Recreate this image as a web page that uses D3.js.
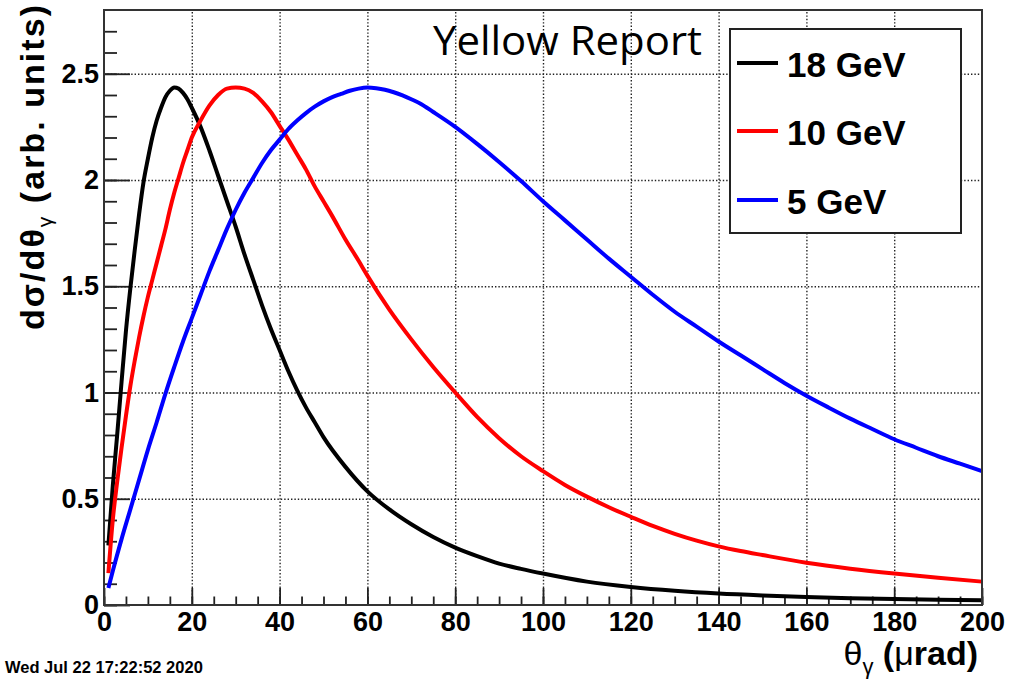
<!DOCTYPE html>
<html>
<head>
<meta charset="utf-8">
<script src="https://cdn.jsdelivr.net/npm/d3@7"></script>
<style>
  body { margin: 0; background: #fff; }
  svg { display: block; font-family: "Liberation Sans", Arial, sans-serif; }
</style>
</head>
<body>
<div id="container"></div>
<script>
// values (theta in urad, dsigma/dtheta in arb. units)
const theta18 = [1,2,3,4,5,6,7,8,9,10,11,12,13,14,15,16,17,18,19,20,22,24,26,28,30,32,34,36,38,40,42,44,46,48,50,55,60,65,70,75,80,85,90,95,100,110,120,130,140,150,160,170,180,190,200];
const val18   = [0.28,0.56,0.80,1.05,1.29,1.49,1.67,1.84,1.99,2.10,2.20,2.28,2.34,2.39,2.42,2.435,2.43,2.41,2.38,2.34,2.25,2.14,2.02,1.90,1.78,1.65,1.53,1.41,1.30,1.20,1.10,1.01,0.93,0.86,0.79,0.65,0.535,0.45,0.38,0.32,0.27,0.23,0.195,0.17,0.148,0.11,0.085,0.067,0.054,0.045,0.038,0.032,0.028,0.025,0.022];

const theta10 = [1,2,3,4,5,6,7,8,9,10,11,12,13,14,15,16,17,18,19,20,22,24,26,28,30,32,34,36,38,40,42,44,46,48,50,52,55,58,60,65,70,75,80,85,90,95,100,105,110,115,120,125,130,135,140,145,150,160,170,180,190,200];
const val10   = [0.15,0.40,0.58,0.74,0.89,1.03,1.15,1.26,1.36,1.45,1.53,1.61,1.69,1.77,1.86,1.94,2.01,2.08,2.14,2.20,2.28,2.35,2.40,2.43,2.435,2.43,2.41,2.37,2.32,2.255,2.19,2.12,2.05,1.97,1.90,1.83,1.72,1.62,1.55,1.39,1.25,1.12,1.00,0.885,0.785,0.70,0.63,0.565,0.51,0.46,0.415,0.372,0.335,0.303,0.276,0.254,0.235,0.199,0.171,0.148,0.128,0.11];

const theta5 = [1,2,4,6,8,10,12,14,16,18,20,22,24,26,28,30,32,34,36,38,40,42,44,46,48,50,52,54,56,58,60,62,64,66,68,70,72,75,80,85,90,95,100,105,110,115,120,125,130,135,140,145,150,155,160,165,170,175,180,185,190,195,200];
const val5   = [0.08,0.16,0.31,0.45,0.59,0.73,0.86,0.995,1.12,1.24,1.35,1.46,1.57,1.67,1.77,1.86,1.94,2.01,2.08,2.14,2.19,2.24,2.28,2.315,2.345,2.37,2.39,2.405,2.42,2.43,2.435,2.432,2.425,2.413,2.398,2.38,2.36,2.32,2.25,2.17,2.085,1.995,1.90,1.81,1.72,1.63,1.545,1.46,1.38,1.31,1.24,1.175,1.11,1.045,0.985,0.93,0.877,0.828,0.78,0.74,0.70,0.665,0.63];

const seriesNames  = ["18 GeV", "10 GeV", "5 GeV"];
const seriesColors = ["#000000", "#ff0000", "#0000ff"];
const xMajorTicks = [0, 20, 40, 60, 80, 100, 120, 140, 160, 180, 200];
const yMajorTicks = [0, 0.5, 1, 1.5, 2, 2.5];
const yTickLabels = ["0", "0.5", "1", "1.5", "2", "2.5"];

const width = 1010, height = 679;
const frame = {left: 104, right: 982, top: 10, bottom: 605};

const series = [
  {name: seriesNames[0], color: seriesColors[0], values: theta18.map((t, i) => ({t: t, v: val18[i]}))},
  {name: seriesNames[1], color: seriesColors[1], values: theta10.map((t, i) => ({t: t, v: val10[i]}))},
  {name: seriesNames[2], color: seriesColors[2], values: theta5.map((t, i) => ({t: t, v: val5[i]}))}
];

// SCALES
const xScale = d3.scaleLinear().domain([0, 200]).range([frame.left, frame.right]);
const yScale = d3.scaleLinear().domain([0, 2.8]).range([frame.bottom, frame.top]);

const svg = d3.select("#container").append("svg")
  .attr("width", width)
  .attr("height", height);

svg.append("rect").attr("width", width).attr("height", height).attr("fill", "#fff");

// GRID
const gridStyle = g => {
  g.select(".domain").remove();
  g.selectAll("text").remove();
  g.selectAll("line").attr("stroke", "#222").attr("stroke-width", 1.4).attr("stroke-dasharray", "1.4,2");
};
svg.append("g")
  .attr("transform", `translate(0,${frame.bottom})`)
  .call(d3.axisBottom(xScale).tickValues(xMajorTicks.slice(1, -1)).tickSize(-(frame.bottom - frame.top)))
  .call(gridStyle);
svg.append("g")
  .attr("transform", `translate(${frame.left},0)`)
  .call(d3.axisLeft(yScale).tickValues(yMajorTicks.slice(1)).tickSize(-(frame.right - frame.left)))
  .call(gridStyle);

// MINOR TICKS
const tickStyle = g => {
  g.select(".domain").remove();
  g.selectAll("line").attr("stroke", "#222").attr("stroke-width", 1.8);
};
svg.append("g")
  .attr("transform", `translate(0,${frame.bottom})`)
  .call(d3.axisBottom(xScale).tickValues(d3.range(0, 201, 5)).tickSize(-8.5).tickFormat(""))
  .call(tickStyle);
svg.append("g")
  .attr("transform", `translate(${frame.left},0)`)
  .call(d3.axisLeft(yScale).tickValues(d3.range(0, 28).map(d => d / 10)).tickSize(-13).tickFormat(""))
  .call(tickStyle);

// MAJOR TICKS + LABELS
const xAxisGroup = svg.append("g")
  .attr("transform", `translate(0,${frame.bottom})`)
  .call(d3.axisBottom(xScale).tickValues(xMajorTicks).tickSizeInner(-17).tickSizeOuter(0).tickPadding(7).tickFormat(d3.format("d")))
  .call(tickStyle);
xAxisGroup.selectAll("text")
  .attr("fill", "#000").style("font-size", "27px").style("font-weight", "bold");

const yAxisGroup = svg.append("g")
  .attr("transform", `translate(${frame.left},0)`)
  .call(d3.axisLeft(yScale).tickValues(yMajorTicks).tickSizeInner(-26).tickSizeOuter(0).tickPadding(5).tickFormat((d, i) => yTickLabels[i]))
  .call(tickStyle);
yAxisGroup.selectAll("text")
  .attr("fill", "#000").style("font-size", "27px").style("font-weight", "bold");

// CURVES
const lineGen = d3.line()
  .curve(d3.curveMonotoneX)
  .x(d => xScale(d.t))
  .y(d => yScale(d.v));

svg.append("g").selectAll("path")
  .data(series)
  .join("path")
    .attr("d", d => lineGen(d.values))
    .attr("fill", "none")
    .attr("stroke", d => d.color)
    .attr("stroke-width", 4)
    .attr("stroke-linejoin", "round");

// FRAME
svg.append("rect")
  .attr("x", frame.left).attr("y", frame.top)
  .attr("width", frame.right - frame.left).attr("height", frame.bottom - frame.top)
  .attr("fill", "none").attr("stroke", "#333").attr("stroke-width", 2);

// "Yellow Report"
svg.append("text")
  .attr("x", 433).attr("y", 55)
  .attr("textLength", 269).attr("lengthAdjust", "spacingAndGlyphs")
  .style("font-family", "'Open Sans', 'Noto Sans', sans-serif")
  .style("font-size", "40px")
  .attr("fill", "#000")
  .text("Yellow Report");

// LEGEND
const legend = svg.append("g");
legend.append("rect")
  .attr("x", 730).attr("y", 29).attr("width", 231).attr("height", 204)
  .attr("fill", "#fff").attr("stroke", "#222").attr("stroke-width", 2);
const legendY = [63, 131, 200];
const entries = legend.selectAll(".entry")
  .data(series)
  .join("g")
    .attr("class", "entry")
    .attr("transform", (d, i) => `translate(0,${legendY[i]})`);
entries.append("line")
  .attr("x1", 737).attr("x2", 778)
  .attr("stroke", d => d.color).attr("stroke-width", 4);
entries.append("text")
  .attr("x", 787).attr("y", 14)
  .style("font-size", "35px").style("font-weight", "bold")
  .attr("fill", "#000")
  .text(d => d.name);

// AXIS TITLES
const xTitle = svg.append("text")
  .attr("x", 978).attr("y", 665)
  .attr("text-anchor", "end")
  .style("font-size", "34px")
  .attr("fill", "#000");
xTitle.append("tspan").text("θ");
xTitle.append("tspan").attr("dy", 9).style("font-size", "22px").text("γ");
xTitle.append("tspan").attr("dy", -9).style("font-weight", "bold").text(" (");
xTitle.append("tspan").text("μ");
xTitle.append("tspan").style("font-weight", "bold").text("rad)");

const yTitle = svg.append("text")
  .attr("transform", "translate(44,5) rotate(-90)")
  .attr("text-anchor", "end")
  .attr("textLength", 325).attr("lengthAdjust", "spacing")
  .style("font-size", "34px").style("font-weight", "bold")
  .attr("fill", "#000");
yTitle.append("tspan").text("dσ/dθ");
yTitle.append("tspan").attr("dy", 8).style("font-size", "21px").style("font-weight", "normal").text("γ");
yTitle.append("tspan").attr("dy", -8).text(" (arb. units)");

// DATE STAMP
svg.append("text")
  .attr("x", 5).attr("y", 673)
  .style("font-size", "16.5px").style("font-weight", "bold")
  .attr("fill", "#000")
  .text("Wed Jul 22 17:22:52 2020");
</script>
</body>
</html>
